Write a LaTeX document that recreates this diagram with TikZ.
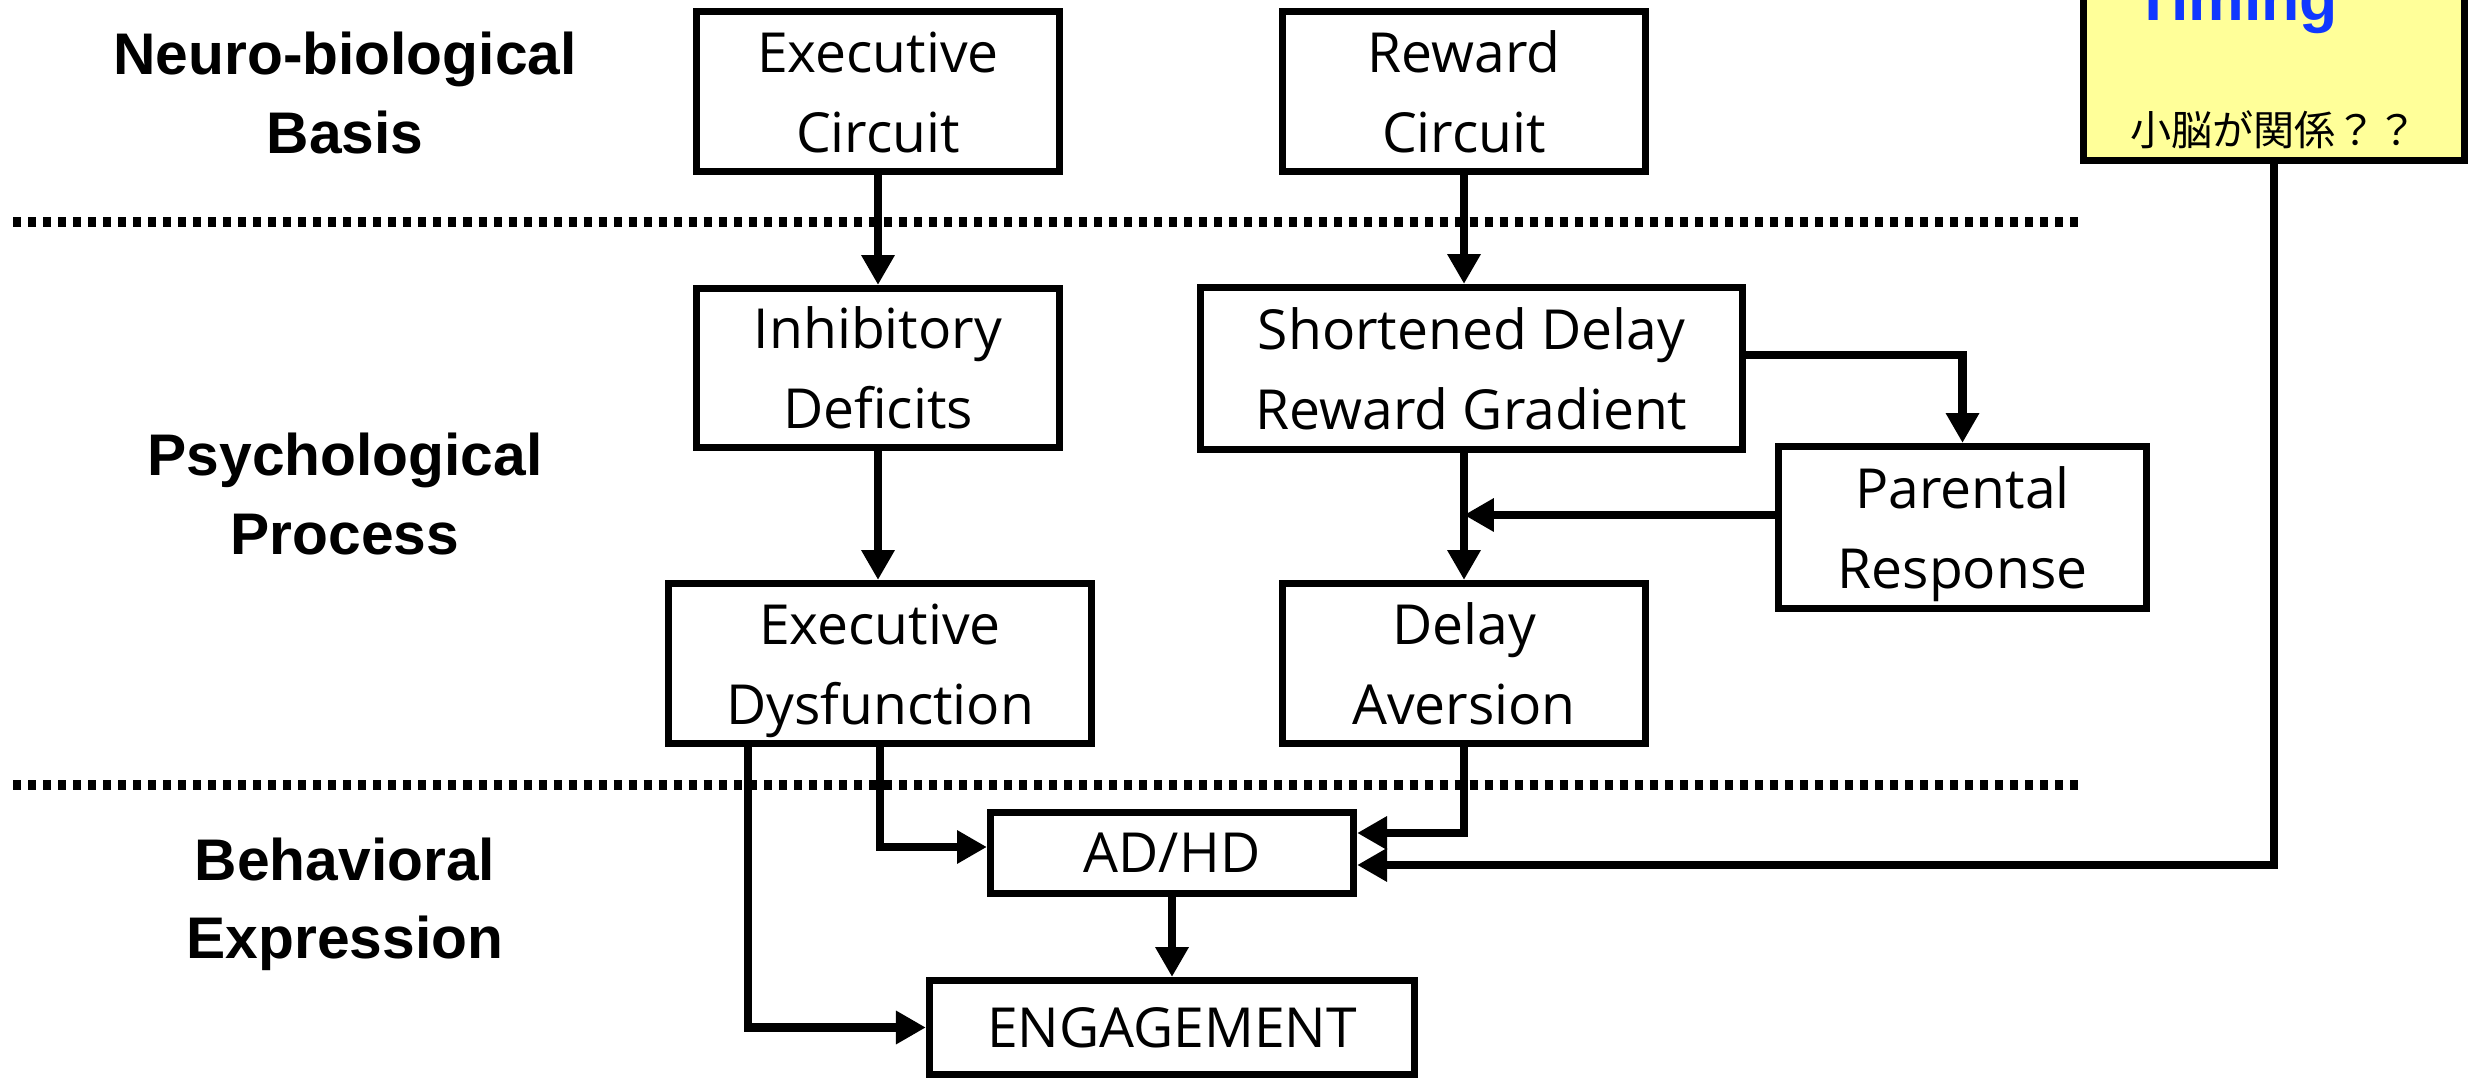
\documentclass[tikz,border=0pt]{standalone}
\usepackage{fontspec}
\usetikzlibrary{arrows.meta}
\newfontfamily\boxfont{Open Sans}
\newfontfamily\lblfont{Liberation Sans}
\newfontfamily\cjk{Noto Sans CJK JP}
\definecolor{timeblue}{RGB}{16,56,255}
\definecolor{paleyellow}{RGB}{255,255,153}
\newcommand\toplines[1]{\begin{tabular}[t]{@{}c@{}}#1\end{tabular}}
\tikzset{
  box/.style={draw, line width=2pt, inner sep=0pt,
    font=\boxfont\fontsize{15.7}{22.8}\selectfont},
  boxtwo/.style={box, text height=16pt, text depth=27pt},
  arr/.style={line width=2.3pt, -{Triangle[length=8.5pt,width=9pt]}},
  lvl/.style={font=\lblfont\bfseries\fontsize{16.7}{22.2}\selectfont, anchor=base, inner sep=0pt},
  sepline/.style={line width=2.85pt, dash pattern=on 2.28pt off 1.99pt},
}
\begin{document}
\begin{tikzpicture}[x=0.01cm, y=-0.01cm]
\useasboundingbox (0,0) rectangle (2470,1080);
\clip (0,0) rectangle (2470,1080);

% level labels
\node[lvl] (lblA) at (345,75) {\toplines{Neuro-biological\\Basis}};
\node[lvl] (lblB) at (345,476) {\toplines{Psychological\\Process}};
\node[lvl] (lblC) at (345,880) {\toplines{Behavioral\\Expression}};

% separators
\draw[sepline] (13,222) -- (2082,222);
\draw[sepline] (13,785) -- (2082,785);

% boxes
\node[boxtwo, minimum width=3.63cm, minimum height=1.6cm] (exc) at (878,91.5) {\toplines{Executive\\Circuit}};
\node[boxtwo, minimum width=3.62cm, minimum height=1.6cm] (rew) at (1464,91.5) {\toplines{Reward\\Circuit}};
\node[boxtwo, minimum width=3.63cm, minimum height=1.59cm] (inh) at (878,368) {\toplines{Inhibitory\\Deficits}};
\node[boxtwo, minimum width=5.41cm, minimum height=1.62cm] (sdrg) at (1471.5,368.5) {\toplines{Shortened Delay\\Reward Gradient}};
\node[boxtwo, minimum width=3.67cm, minimum height=1.62cm] (par) at (1962.5,527.5) {\toplines{Parental\\Response}};
\node[boxtwo, minimum width=4.23cm, minimum height=1.6cm] (exd) at (880,663.5) {\toplines{Executive\\Dysfunction}};
\node[boxtwo, minimum width=3.62cm, minimum height=1.6cm] (dav) at (1464,663.5) {\toplines{Delay\\Aversion}};
\node[box, minimum width=3.63cm, minimum height=0.81cm] (adhd) at (1172,853) {AD/HD};
\node[box, minimum width=4.85cm, minimum height=0.94cm] (eng) at (1172,1027.5) {ENGAGEMENT};

% timing box
\node[draw, fill=paleyellow, line width=2pt, inner sep=0pt, anchor=base,
      minimum width=3.81cm, text height=80pt, text depth=4.1pt,
      font=\cjk\fontsize{11.7}{35.8}\selectfont] (tim) at (2274,146)
  {\begin{tabular}[b]{@{}c@{}}{\lblfont\bfseries\fontsize{17.8}{20}\selectfont\color{timeblue}Timing\hspace{21.6pt}}\\小脳が関係？？\end{tabular}};

% helper levels
\coordinate (ySP) at (0,355);
\coordinate (yPR) at (0,515);
\coordinate (yED) at (0,847);
\coordinate (yDA) at (0,833);
\coordinate (yTA) at (0,865);
\coordinate (xL) at (748,0);

% connectors
\draw[arr] (exc.south) -- (exc.south |- inh.north);
\draw[arr] (rew.south) -- (rew.south |- sdrg.north);
\draw[arr] (inh.south) -- (inh.south |- exd.north);
\draw[arr] (sdrg.east |- ySP) -| (par.north);
\draw[arr] (dav.north |- sdrg.south) -- (dav.north);
\draw[arr] (par.west |- yPR) -- (dav.north |- yPR);
\draw[arr] (exd.south) |- (adhd.west |- yED);
\draw[arr] (exd.south -| xL) |- (eng.west);
\draw[arr] (adhd.south) -- (eng.north);
\draw[arr] (dav.south) |- (adhd.east |- yDA);
\draw[arr] (tim.south) |- (adhd.east |- yTA);
\end{tikzpicture}
\end{document}
